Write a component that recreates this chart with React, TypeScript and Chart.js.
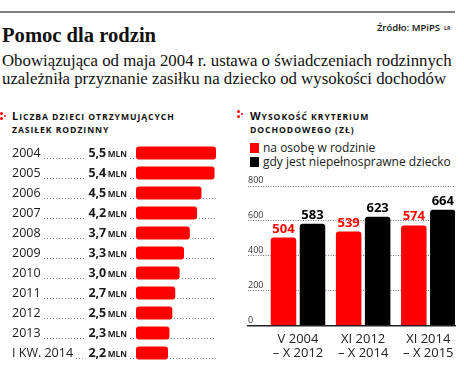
import React, { useEffect, useRef } from "react";
import { Chart, registerables } from "chart.js";

Chart.register(...registerables);

// ---- data ----
const years = ["2004", "2005", "2006", "2007", "2008", "2009", "2010", "2011", "2012", "2013", "I KW. 2014"];
const childrenMln = [5.5, 5.4, 4.5, 4.2, 3.7, 3.3, 3.0, 2.7, 2.5, 2.3, 2.2];
const periods = [
  ["V 2004", "– X 2012"],
  ["XI 2012", "– X 2014"],
  ["XI 2014", "– X 2015"],
];
const perPerson = [504, 539, 574];
const disabledChild = [583, 623, 664];
const yTicks = [0, 200, 400, 600, 800];
const seriesNames = ["na osobę w rodzinie", "gdy jest niepełnosprawne dziecko"];

const RED = "#ff0000";
const SANS = '"Open Sans", sans-serif';
const SERIF = '"Liberation Serif", serif';

function dotted(ctx: CanvasRenderingContext2D, x1: number, x2: number, y: number) {
  if (x2 - x1 < 1) return;
  ctx.save();
  ctx.strokeStyle = "#8a8a8a";
  ctx.lineWidth = 1;
  ctx.setLineDash([1, 2]);
  ctx.beginPath();
  ctx.moveTo(Math.round(x1), Math.round(y) + 0.5);
  ctx.lineTo(x2, Math.round(y) + 0.5);
  ctx.stroke();
  ctx.restore();
}

const rowLabels = {
  id: "rowLabels",
  beforeDatasetsDraw(chart: any) {
    const ctx: CanvasRenderingContext2D = chart.ctx;
    const xs = chart.scales.x;
    const ys = chart.scales.y;
    const x0 = xs.getPixelForValue(0);
    const xEnd = xs.right;
    ctx.save();
    years.forEach((yr, i) => {
      const y = ys.getPixelForValue(i);
      const base = y + 4.5;
      ctx.fillStyle = "#1a1a1a";
      ctx.textBaseline = "middle";
      ctx.textAlign = "left";
      ctx.font = `12.5px ${SANS}`;
      ctx.fillText(yr, 12, y);
      const yrW = ctx.measureText(yr).width;
      const valStr = childrenMln[i].toFixed(1).replace(".", ",");
      ctx.font = `bold 8.3px ${SANS}`;
      const mlnW = ctx.measureText("MLN").width;
      ctx.font = `bold 12.5px ${SANS}`;
      const valW = ctx.measureText(valStr).width;
      const mlnX = 127 - mlnW;
      const valX = mlnX - 1.5 - valW;
      ctx.fillText(valStr, valX, y);
      ctx.font = `bold 8.3px ${SANS}`;
      ctx.fillText("MLN", mlnX, y + 1.2);
      dotted(ctx, 12 + yrW + 3, valX - 3, base);
      dotted(ctx, 130, x0 - 1, base);
      const bx = xs.getPixelForValue(childrenMln[i]);
      dotted(ctx, bx + 2, xEnd, base);
    });
    ctx.restore();
  },
};

const valueLabels = {
  id: "valueLabels",
  afterDatasetsDraw(chart: any) {
    const ctx: CanvasRenderingContext2D = chart.ctx;
    ctx.save();
    chart.data.datasets.forEach((ds: any, di: number) => {
      const meta = chart.getDatasetMeta(di);
      meta.data.forEach((bar: any, i: number) => {
        ctx.font = `bold 13px ${SANS}`;
        ctx.fillStyle = di === 0 ? RED : "#000";
        ctx.textAlign = "center";
        ctx.textBaseline = "alphabetic";
        ctx.fillText(String(ds.data[i].y), bar.x, bar.y - 5);
      });
    });
    ctx.restore();
  },
};

function LeftChart() {
  const ref = useRef<HTMLCanvasElement>(null);
  useEffect(() => {
    const chart = new Chart(ref.current!, {
      type: "bar",
      data: {
        labels: years,
        datasets: [
          {
            data: childrenMln,
            backgroundColor: RED,
            borderRadius: 3,
            borderSkipped: false,
            barPercentage: 0.66,
            categoryPercentage: 1,
          },
        ],
      },
      options: {
        indexAxis: "y",
        animation: false,
        responsive: false,
        maintainAspectRatio: false,
        layout: { padding: { left: 136, right: 9, top: 3, bottom: 11 } },
        scales: {
          x: { display: false, min: 0, max: 5.5 },
          y: { display: false },
        },
        plugins: { legend: { display: false }, tooltip: { enabled: false } },
      },
      plugins: [rowLabels],
    } as any);
    return () => chart.destroy();
  }, []);
  return (
    <canvas
      ref={ref}
      width={225}
      height={234}
      style={{ position: "absolute", left: 0, top: 140, width: 225, height: 234 }}
    />
  );
}

function RightChart() {
  const ref = useRef<HTMLCanvasElement>(null);
  useEffect(() => {
    const chart = new Chart(ref.current!, {
      type: "bar",
      data: {
        datasets: [
          {
            label: seriesNames[0],
            data: perPerson.map((v, i) => ({ x: i, y: v })),
            backgroundColor: RED,
            borderRadius: 3,
          },
          {
            label: seriesNames[1],
            data: disabledChild.map((v, i) => ({ x: i, y: v })),
            backgroundColor: "#000",
            borderRadius: 3,
          },
        ],
      },
      options: {
        animation: false,
        responsive: false,
        maintainAspectRatio: false,
        layout: { padding: { left: 18, right: 9, top: 16, bottom: 8.5 } },
        datasets: { bar: { categoryPercentage: 0.89, barPercentage: 0.88 } },
        scales: {
          x: {
            type: "linear",
            min: -0.7675,
            max: 2.41,
            offset: false,
            grid: { display: false, drawTicks: false, offset: false },
            border: { display: true, color: "#222", width: 1.5 },
            afterBuildTicks: (s: any) => {
              s.ticks = periods.map((_, i) => ({ value: i }));
            },
            afterFit: (s: any) => {
              s.height = 40;
            },
            ticks: {
              autoSkip: false,
              maxRotation: 0,
              padding: 6.5,
              color: "#222",
              font: { family: SANS, size: 13, lineHeight: "14px" },
              callback: (v: any) => periods[v],
            },
          },
          y: {
            min: 0,
            max: 800,
            afterBuildTicks: (s: any) => {
              s.ticks = yTicks.map((v) => ({ value: v }));
            },
            afterFit: (s: any) => {
              s.width = 0;
            },
            grid: { color: "#777", lineWidth: 1, drawTicks: false },
            border: { display: false, dash: [1, 1.5] },
            ticks: {
              mirror: true,
              padding: 0,
              labelOffset: -5.5,
              color: "#333",
              font: { family: SANS, size: 9 },
            },
          },
        },
        plugins: { legend: { display: false }, tooltip: { enabled: false } },
      },
      plugins: [valueLabels],
    } as any);
    return () => chart.destroy();
  }, []);
  return (
    <canvas
      ref={ref}
      width={234}
      height={204}
      style={{ position: "absolute", left: 230, top: 170, width: 234, height: 204 }}
    />
  );
}

function Dots({ left, top }: { left: number; top: number }) {
  const d = (x: number, y: number) => (
    <div
      style={{
        position: "absolute",
        left: left + x,
        top: top + y,
        width: 2.5,
        height: 2.5,
        borderRadius: 2,
        background: RED,
      }}
    />
  );
  return (
    <>
      {d(0, 0)}
      {d(0, 5)}
      {d(3.5, 2.5)}
    </>
  );
}

// Small caps: original capitals at full size, lowercase letters as reduced capitals
function SmallCaps({ text }: { text: string }) {
  const parts: { t: string; big: boolean }[] = [];
  for (const ch of text) {
    const big = ch !== ch.toLowerCase();
    const last = parts[parts.length - 1];
    if (last && last.big === big) last.t += ch;
    else parts.push({ t: ch, big });
  }
  return (
    <>
      {parts.map((p, i) => (
        <span key={i} style={{ fontSize: p.big ? 11 : 8.6 }}>
          {p.t.toUpperCase()}
        </span>
      ))}
    </>
  );
}

const abs = (extra: React.CSSProperties): React.CSSProperties => ({
  position: "absolute",
  whiteSpace: "nowrap",
  margin: 0,
  ...extra,
});

export default function App() {
  const capStyle: React.CSSProperties = {
    fontFamily: SANS,
    fontWeight: 700,
    fontSize: 8.6,
    letterSpacing: 0.95,
    color: "#111",
    lineHeight: "14px",
  };
  return (
    <div
      style={{
        position: "absolute",
        left: 0,
        top: 0,
        width: 464,
        height: 374,
        background: "#fff",
        overflow: "hidden",
      }}
    >
      <div style={abs({ left: 0, top: 11, width: 455, height: 1.7, background: "#808080" })} />
      <div
        style={abs({
          right: 24,
          top: 22,
          fontFamily: SANS,
          fontWeight: 600,
          fontSize: 9.5,
          lineHeight: "12px",
          color: "#111",
        })}
      >
        Źródło: MPiPS
      </div>
      <div
        style={abs({
          left: 444,
          top: 24,
          fontFamily: SANS,
          fontWeight: 700,
          fontSize: 5.5,
          lineHeight: "8px",
          color: "#333",
        })}
      >
        LR
      </div>
      <div
        style={abs({
          left: 2,
          top: 24,
          fontFamily: SERIF,
          fontWeight: 700,
          fontSize: 20.6,
          lineHeight: "22px",
          color: "#111",
        })}
      >
        Pomoc dla rodzin
      </div>
      <div
        style={abs({
          left: 2,
          top: 52,
          fontFamily: SERIF,
          fontSize: 16.8,
          lineHeight: "18px",
          color: "#111",
        })}
      >
        Obowiązująca od maja 2004 r. ustawa o świadczeniach rodzinnych
      </div>
      <div
        style={abs({
          left: 2,
          top: 70,
          fontFamily: SERIF,
          fontSize: 16.8,
          lineHeight: "18px",
          color: "#111",
        })}
      >
        uzależniła przyznanie zasiłku na dziecko od wysokości dochodów
      </div>

      <Dots left={0} top={112} />
      <div style={abs({ left: 12, top: 109, ...capStyle })}>
        <SmallCaps text="Liczba dzieci otrzymujących" />
      </div>
      <div style={abs({ left: 12, top: 123, ...capStyle })}>
        <SmallCaps text="zasiłek rodzinny" />
      </div>

      <Dots left={237} top={110} />
      <div style={abs({ left: 250, top: 109, ...capStyle })}>
        <SmallCaps text="Wysokość kryterium" />
      </div>
      <div style={abs({ left: 250, top: 123, ...capStyle })}>
        <SmallCaps text="dochodowego (zł)" />
      </div>

      <div style={abs({ left: 250, top: 143, width: 9, height: 10, background: RED })} />
      <div
        style={abs({
          left: 263,
          top: 140,
          fontFamily: SANS,
          fontSize: 12,
          lineHeight: "16px",
          color: "#1a1a1a",
        })}
      >
        {seriesNames[0]}
      </div>
      <div style={abs({ left: 250, top: 157, width: 9, height: 10, background: "#000" })} />
      <div
        style={abs({
          left: 263,
          top: 154,
          fontFamily: SANS,
          fontSize: 12,
          lineHeight: "16px",
          color: "#1a1a1a",
        })}
      >
        {seriesNames[1]}
      </div>

      <LeftChart />
      <RightChart />
    </div>
  );
}
